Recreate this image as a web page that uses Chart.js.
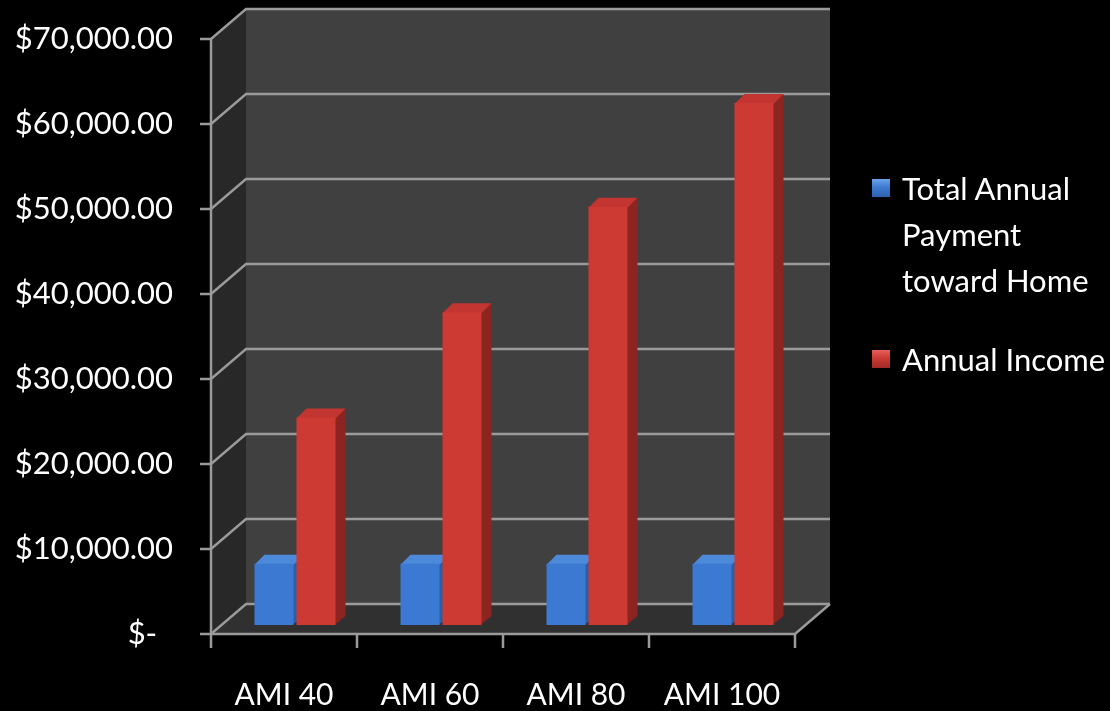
<!DOCTYPE html>
<html>
<head>
<meta charset="utf-8">
<script src="https://cdn.jsdelivr.net/npm/chart.js@4.4.1/dist/chart.umd.min.js"></script>
<style>
  html, body { margin: 0; padding: 0; background: #000; }
  #wrap { position: relative; width: 1110px; height: 711px; overflow: hidden; }
  #chart { position: absolute; left: 0; top: 0; }
  .legend { position: absolute; left: 872px; color: #fff; font-family: Lato, sans-serif; font-size: 31px; line-height: 46px; }
  .legend .mark { position: absolute; left: 0; width: 18px; height: 18px; }
  .legend .txt { position: absolute; left: 30px; white-space: nowrap; }
</style>
</head>
<body>
<div id="wrap">
  <canvas id="chart" width="1110" height="711"></canvas>
  <div class="legend" style="top:165px">
    <div class="mark" style="top:14px;background:linear-gradient(180deg,#6aa2ea 0%,#3d7bd2 45%,#2d62b0 100%)"></div>
    <div class="txt">Total Annual<br>Payment<br>toward Home</div>
  </div>
  <div class="legend" style="top:336px">
    <div class="mark" style="top:14px;background:linear-gradient(180deg,#e8615b 0%,#cc3a34 45%,#a02a26 100%)"></div>
    <div class="txt">Annual Income</div>
  </div>
</div>
<script>
// Annual payment toward a home vs annual income, by AMI level

const categories = ['AMI 40', 'AMI 60', 'AMI 80', 'AMI 100'];
const paymentValues = [7200, 7200, 7200, 7200];
const incomeValues = [24400, 36800, 49200, 61400];
const yMin = 0;
const yMax = 70000;
const yStep = 10000;

// 3D offsets relative to the bar plane (where Chart.js draws the bar fronts)
const FRONT = { dx: -11, dy: 9 };
const BACK = { dx: 24, dy: -21 };
const BAR_DEPTH = { dx: 10, dy: -9 };

function money(v) {
  if (v === 0) return '$-  ';
  return '$' + v.toLocaleString('en-US', { minimumFractionDigits: 2, maximumFractionDigits: 2 });
}

// --- Walls, floor, gridlines and bar side/top faces ---
const frame3d = {
  id: 'frame3d',
  beforeDatasetsDraw(chart) {
    const { ctx, chartArea: a, scales: { y } } = chart;
    const L = a.left, R = a.right;
    const fy = v => y.getPixelForValue(v) + FRONT.dy;
    const by = v => y.getPixelForValue(v) + BACK.dy;
    const fl = L + FRONT.dx, fr = R + FRONT.dx;
    const bl = L + BACK.dx, br = R + BACK.dx;

    ctx.save();
    // side wall
    ctx.fillStyle = '#282828';
    ctx.beginPath();
    ctx.moveTo(fl, fy(yMax)); ctx.lineTo(bl, by(yMax));
    ctx.lineTo(bl, by(yMin)); ctx.lineTo(fl, fy(yMin));
    ctx.closePath(); ctx.fill();
    // back wall
    ctx.fillStyle = '#404040';
    ctx.fillRect(bl, by(yMax), br - bl, by(yMin) - by(yMax));
    // floor
    ctx.fillStyle = '#303030';
    ctx.beginPath();
    ctx.moveTo(fl, fy(yMin)); ctx.lineTo(bl, by(yMin));
    ctx.lineTo(br, by(yMin)); ctx.lineTo(fr, fy(yMin));
    ctx.closePath(); ctx.fill();

    // gridlines
    ctx.strokeStyle = '#9a9a9a';
    ctx.lineWidth = 2.5;
    for (let v = yMin; v <= yMax; v += yStep) {
      ctx.beginPath();
      ctx.moveTo(fl - 11, fy(v));
      ctx.lineTo(fl, fy(v));
      ctx.lineTo(bl, by(v));
      ctx.lineTo(br, by(v));
      ctx.stroke();
    }
    // front value axis
    ctx.beginPath();
    ctx.moveTo(fl, fy(yMax)); ctx.lineTo(fl, fy(yMin) + 14);
    ctx.stroke();
    // floor front and right edges
    ctx.beginPath();
    ctx.moveTo(fl, fy(yMin)); ctx.lineTo(fr, fy(yMin)); ctx.lineTo(br, by(yMin));
    ctx.stroke();
    // category ticks
    const slot = (R - L) / categories.length;
    for (let i = 1; i <= categories.length; i++) {
      const px = fl + slot * i;
      ctx.beginPath();
      ctx.moveTo(px, fy(yMin)); ctx.lineTo(px, fy(yMin) + 14);
      ctx.stroke();
    }

    // bar side and top faces (fronts are drawn by Chart.js on top)
    const faces = [
      { top: '#4c8ad9', side: '#2b5ea6' },
      { top: '#c23530', side: '#8c2420' },
    ];
    chart.data.datasets.forEach((ds, di) => {
      chart.getDatasetMeta(di).data.forEach(bar => {
        const l = bar.x - bar.width / 2, r = bar.x + bar.width / 2;
        const t = bar.y, b = bar.base;
        ctx.fillStyle = faces[di].side;
        ctx.beginPath();
        ctx.moveTo(r - 1, t); ctx.lineTo(r + BAR_DEPTH.dx, t + BAR_DEPTH.dy);
        ctx.lineTo(r + BAR_DEPTH.dx, b + BAR_DEPTH.dy); ctx.lineTo(r - 1, b);
        ctx.closePath(); ctx.fill();
        ctx.fillStyle = faces[di].top;
        ctx.beginPath();
        ctx.moveTo(l, t + 1); ctx.lineTo(l + BAR_DEPTH.dx, t + BAR_DEPTH.dy);
        ctx.lineTo(r + BAR_DEPTH.dx, t + BAR_DEPTH.dy); ctx.lineTo(r, t + 1);
        ctx.closePath(); ctx.fill();
      });
    });
    ctx.restore();
  },
};

const bg = {
  id: 'bg',
  beforeDraw(chart) {
    const { ctx, width, height } = chart;
    ctx.save();
    ctx.fillStyle = '#000';
    ctx.fillRect(0, 0, width, height);
    ctx.restore();
  },
};

new Chart(document.getElementById('chart'), {
  type: 'bar',
  data: {
    labels: categories,
    datasets: [
      {
        label: 'Total Annual Payment toward Home',
        data: paymentValues,
        backgroundColor: '#3b79d2',
        borderWidth: 0,
      },
      {
        label: 'Annual Income',
        data: incomeValues,
        backgroundColor: '#cd3933',
        borderWidth: 0,
      },
    ],
  },
  options: {
    responsive: false,
    animation: false,
    layout: { padding: { top: 30, right: 304, bottom: 0, left: 0 } },
    categoryPercentage: 0.575,
    barPercentage: 0.93,
    plugins: {
      legend: { display: false },
      tooltip: { enabled: false },
    },
    scales: {
      x: {
        grid: { display: false },
        border: { display: false },
        ticks: {
          color: '#ffffff',
          font: { family: 'Lato', size: 30 },
          padding: 44,
          labelOffset: -11,
          maxRotation: 0,
        },
        afterFit(scale) {
          scale.height = 86;
          scale.paddingLeft = 0;
          scale.paddingRight = 0;
        },
      },
      y: {
        min: yMin,
        max: yMax,
        grid: { display: false },
        border: { display: false },
        ticks: {
          stepSize: yStep,
          color: '#ffffff',
          font: { family: 'Lato', size: 31 },
          padding: 41,
          labelOffset: 9,
          callback: v => money(v),
        },
        afterFit(scale) {
          scale.width = 222;
          scale.paddingTop = 0;
          scale.paddingBottom = 0;
        },
      },
    },
  },
  plugins: [bg, frame3d],
});
</script>
</body>
</html>
